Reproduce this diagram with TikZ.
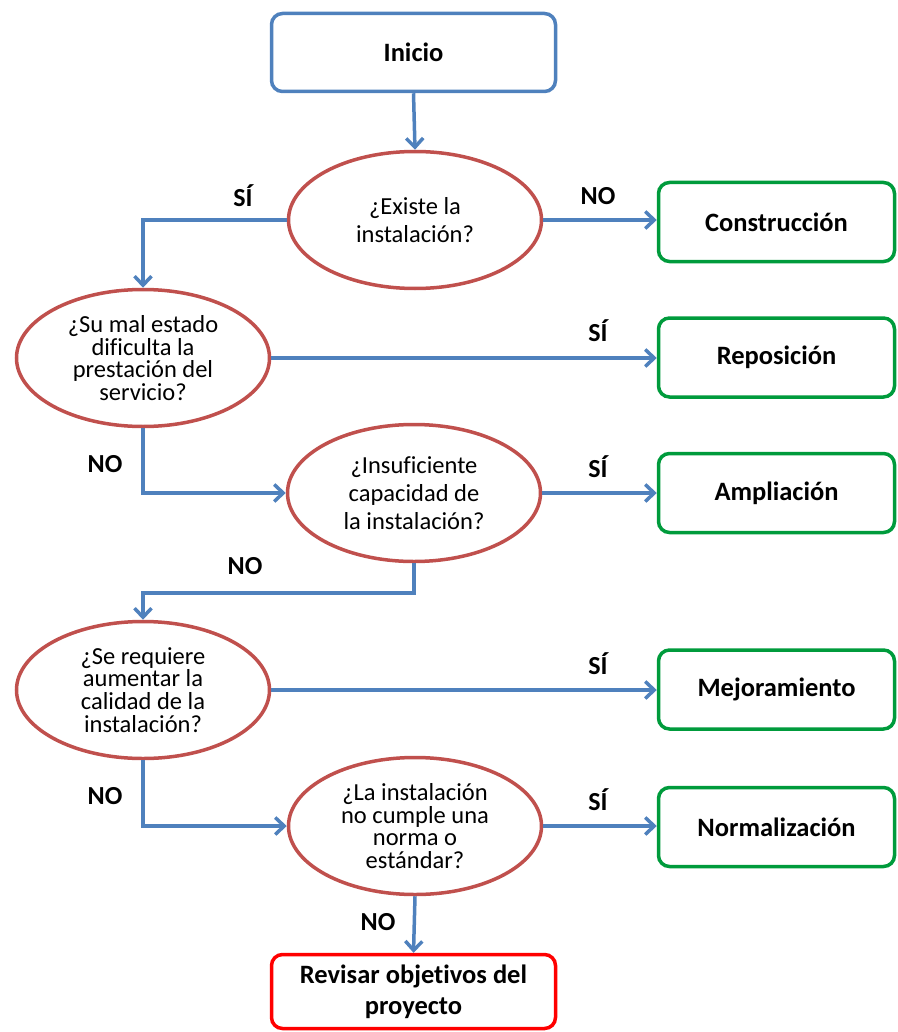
\documentclass[tikz,border=0pt]{standalone}
\usepackage{fontspec}
\setmainfont{Carlito}[Ligatures={NoCommon,NoContextual}]
\usetikzlibrary{shapes.geometric,arrows.meta}
\definecolor{cblue}{RGB}{79,129,189}
\definecolor{cred}{RGB}{192,80,77}
\definecolor{cgreen}{RGB}{0,155,60}
\definecolor{cbright}{RGB}{255,0,0}
\tikzset{
  boxbase/.style={rectangle, rounded corners=11pt, line width=3.5pt, fill=white, inner sep=0pt, align=center, font=\fontsize{26.5}{31}\selectfont\bfseries},
  startbox/.style={boxbase, draw=cblue, minimum width=284pt, minimum height=78pt},
  outbox/.style={boxbase, draw=cgreen, minimum width=236pt, minimum height=79pt},
  endbox/.style={boxbase, draw=cbright, minimum width=284pt, minimum height=74pt},
  question/.style={ellipse, draw=cred, line width=3.5pt, fill=white, inner sep=0pt, align=center, minimum width=253pt, minimum height=137pt},
  qtwo/.style={question, font=\fontsize{24.5}{28}\selectfont},
  qfour/.style={question, font=\fontsize{24.5}{22.8}\selectfont},
  arr/.style={draw=cblue, line width=3.5pt, -{Straight Barb[length=9pt,width=17pt,line width=3.5pt]}},
  lab/.style={font=\fontsize{26}{30}\selectfont\bfseries, inner sep=0pt}
}
\begin{document}
\begin{tikzpicture}[x=1pt,y=-1pt]
\useasboundingbox (0,0) rectangle (897,1032);
\node[startbox] (inicio) at (413.5,52.5) {Inicio};
\node[qtwo] (e1) at (415,220) {¿Existe la\\instalación?};
\node[outbox] (constr) at (776.5,222) {Construcción};
\node[qfour] (e2) at (143,358) {¿Su mal estado\\dificulta la\\prestación del\\servicio?};
\node[outbox] (repos) at (776.5,357.5) {Reposición};
\node[qtwo] (e3) at (414,493) {¿Insuficiente\\capacidad de\\la instalación?};
\node[outbox] (ampl) at (776.5,493) {Ampliación};
\node[qfour] (e4) at (143,690) {¿Se requiere\\aumentar la\\calidad de la\\instalación?};
\node[outbox] (mejor) at (776.5,689.5) {Mejoramiento};
\node[qfour] (e5) at (415,826) {¿La instalación\\no cumple una\\norma o\\estándar?};
\node[outbox] (norm) at (776.5,827) {Normalización};
\node[endbox] (rev) at (413.5,991.5) {Revisar objetivos del\\proyecto};

\draw[arr] (inicio.south) -- (e1.north);
\draw[arr] (e1.west) -| (e2.north);
\draw[arr] (e1.east) -- (e1.east -| constr.west);
\draw[arr] (e2.east) -- (e2.east -| repos.west);
\draw[arr] (e2.south) |- (e3.west);
\draw[arr] (e3.east) -- (e3.east -| ampl.west);
\coordinate (k3) at (414,593);
\draw[arr] (e3.south) -- (k3) -| (e4.north);
\draw[arr] (e4.east) -- (e4.east -| mejor.west);
\draw[arr] (e4.south) |- (e5.west);
\draw[arr] (e5.east) -- (e5.east -| norm.west);
\draw[arr] (e5.south) -- (rev.north);

\node[lab] (l1) at (243,196) {SÍ};
\node[lab] (l2) at (598,196) {NO};
\node[lab] (l3) at (598,331) {SÍ};
\node[lab] (l4) at (105,464) {NO};
\node[lab] (l5) at (598,467) {SÍ};
\node[lab] (l6) at (245,566) {NO};
\node[lab] (l7) at (598,664) {SÍ};
\node[lab] (l8) at (105,796) {NO};
\node[lab] (l9) at (598,800) {SÍ};
\node[lab] (l10) at (378,922) {NO};
\end{tikzpicture}
\end{document}
